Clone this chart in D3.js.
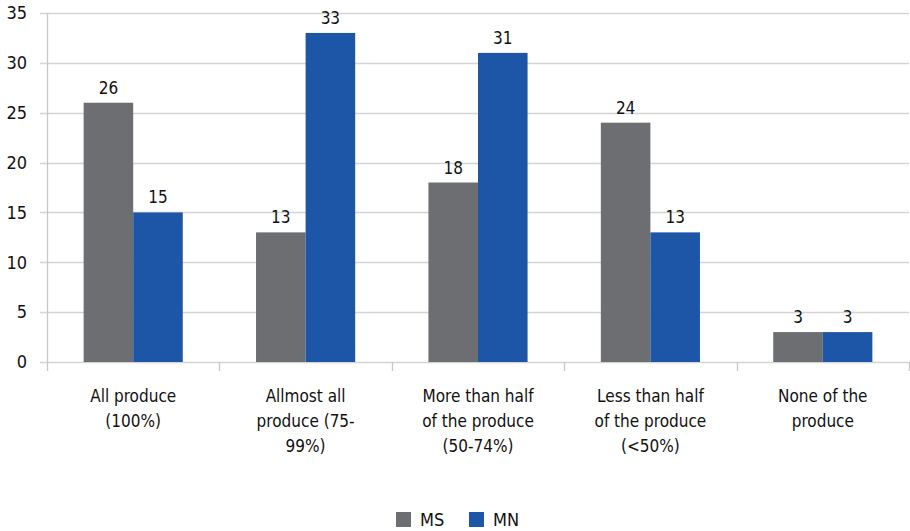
<!DOCTYPE html>
<html>
<head>
<meta charset="utf-8">
<script src="https://cdn.jsdelivr.net/npm/d3@7"></script>
<style>
  html, body { margin: 0; padding: 0; background: #fff; }
  svg { display: block; font-family: "Liberation Sans Narrow", "DejaVu Sans Condensed", sans-serif; }
</style>
</head>
<body>
<svg id="chart" width="910" height="531"></svg>
<script>
// Share of produce sold, by group
const categories = [
  ["All produce", "(100%)"],
  ["Allmost all", "produce (75-", "99%)"],
  ["More than half", "of the produce", "(50-74%)"],
  ["Less than half", "of the produce", "(<50%)"],
  ["None of the", "produce"]
];
const seriesNames = ["MS", "MN"];
const msValues = [26, 13, 18, 24, 3];
const mnValues = [15, 33, 31, 13, 3];
const yTicks = [0, 5, 10, 15, 20, 25, 30, 35];
const colors = ["#6d6e71", "#1d56a6"];

const svg = d3.select("#chart");
const plotLeft = 47, plotRight = 909, plotTop = 13, plotBottom = 362;

const x = d3.scaleBand().domain(d3.range(categories.length)).range([plotLeft, plotRight]).paddingInner(0).paddingOuter(0);
const groupFrac = 0.575;
const xs = d3.scaleBand().domain(seriesNames)
  .range([0, x.bandwidth() * groupFrac]);
const y = d3.scaleLinear().domain([0, 35]).range([plotBottom, plotTop]);

// horizontal gridlines
svg.append("g").selectAll("line").data(yTicks).join("line")
  .attr("x1", plotLeft - 7).attr("x2", plotRight)
  .attr("y1", d => Math.round(y(d)) + 0.5).attr("y2", d => Math.round(y(d)) + 0.5)
  .attr("stroke", "#d4d4d4").attr("stroke-width", 1.3);

// y tick labels
svg.append("g").selectAll("text").data(yTicks).join("text")
  .attr("x", 27).attr("y", d => y(d)).attr("dy", "0.35em")
  .attr("text-anchor", "end").attr("font-size", 18).attr("fill", "#111")
  .text(d => d);

// vertical axis line
svg.append("line").attr("x1", plotLeft + 0.5).attr("x2", plotLeft + 0.5)
  .attr("y1", plotTop).attr("y2", plotBottom + 1).attr("stroke", "#c8c8c8").attr("stroke-width", 1.3);

// category boundary ticks
const bounds = d3.range(categories.length + 1).map(i => plotLeft + i * x.step());
svg.append("g").selectAll("line").data(bounds).join("line")
  .attr("x1", d => Math.round(d) + 0.5).attr("x2", d => Math.round(d) + 0.5)
  .attr("y1", plotBottom).attr("y2", plotBottom + 9)
  .attr("stroke", "#c8c8c8").attr("stroke-width", 1.3);

// bars
const data = categories.map((c, i) => ({ i, vals: [msValues[i], mnValues[i]] }));
const groups = svg.append("g").selectAll("g").data(data).join("g")
  .attr("transform", d => `translate(${x(d.i) + x.bandwidth() * (1 - groupFrac) / 2},0)`);

groups.selectAll("rect").data(d => d.vals.map((v, k) => ({ v, k }))).join("rect")
  .attr("x", d => xs(seriesNames[d.k]))
  .attr("width", xs.bandwidth())
  .attr("y", d => y(d.v))
  .attr("height", d => y(0) - y(d.v))
  .attr("fill", d => colors[d.k]);

groups.selectAll("text").data(d => d.vals.map((v, k) => ({ v, k }))).join("text")
  .attr("x", d => xs(seriesNames[d.k]) + xs.bandwidth() / 2)
  .attr("y", d => y(d.v) - 9)
  .attr("text-anchor", "middle").attr("font-size", 17).attr("fill", "#111")
  .text(d => d.v);

// category labels
const catLabels = svg.append("g").selectAll("text").data(categories).join("text")
  .attr("text-anchor", "middle").attr("font-size", 17).attr("fill", "#111")
  .attr("transform", (d, i) => `translate(${x(i) + x.bandwidth() / 2},402)`);
catLabels.selectAll("tspan").data(d => d).join("tspan")
  .attr("x", 0).attr("y", (d, j) => j * 25).text(d => d);

// legend
const legend = svg.append("g").attr("transform", "translate(396,512)");
const legX = [0, 73];
seriesNames.forEach((name, k) => {
  legend.append("rect").attr("x", legX[k]).attr("y", 0).attr("width", 15).attr("height", 15).attr("fill", colors[k]);
  legend.append("text").attr("x", legX[k] + 24).attr("y", 8).attr("dy", "0.35em")
    .attr("font-size", 18).attr("fill", "#111").text(name);
});
</script>
</body>
</html>
